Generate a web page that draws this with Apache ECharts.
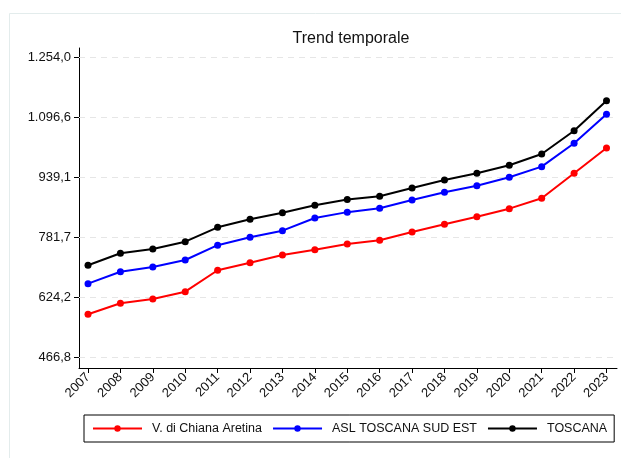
<!DOCTYPE html>
<html>
<head>
<meta charset="utf-8">
<script src="https://cdn.jsdelivr.net/npm/echarts@6/dist/echarts.min.js"></script>
<style>html,body{margin:0;padding:0;background:#fff}#c{width:621px;height:458px}</style>
</head>
<body>
<div id="c"></div>
<script>
const years = [2007,2008,2009,2010,2011,2012,2013,2014,2015,2016,2017,2018,2019,2020,2021,2022,2023];
const chiana = [580.2,609.0,620.3,639.5,695.6,715.6,735.8,749.7,764.6,774.3,796.1,816.3,836.3,857.3,884.5,950.1,1016.5];
const aslSudEst = [660.5,691.9,704.3,722.6,761.5,782.2,799.5,832.8,848.2,858.3,880.1,900.3,917.6,939.6,967.5,1028.9,1105.0];
const toscana = [708.7,740.2,751.5,770.7,808.4,829.4,846.8,866.2,881.2,889.8,911.6,932.6,950.1,971.1,1000.8,1061.9,1140.6];
const yTicks = [466.8,624.24,781.68,939.12,1096.56,1254.0];
const seriesNames = ['V. di Chiana Aretina','ASL TOSCANA SUD EST','TOSCANA'];
const seriesColors = ['#ff0000','#0000ff','#000000'];

const FONT = 'Liberation Sans, Arial, sans-serif';
function fmtIt(v){
  const s = v.toFixed(1).split('.');
  const intPart = s[0].replace(/\B(?=(\d{3})+(?!\d))/g,'.');
  return intPart + ',' + s[1];
}
const pairs = arr => years.map((y,i)=>[y,arr[i]]);
const allData = [chiana, aslSudEst, toscana];

const chart = echarts.init(document.getElementById('c'), null, {renderer:'canvas'});
const series = allData.map((d,i)=>({
  name: seriesNames[i], type:'line', data: pairs(d), z: 3,
  symbol:'circle', symbolSize:7, showSymbol:true,
  lineStyle:{color:seriesColors[i], width:2},
  itemStyle:{color:seriesColors[i]},
  emphasis:{disabled:true}, animation:false
}));
series.push({
  name:'grid', type:'line', data:[], z:1, silent:true, animation:false,
  markLine:{
    z:1, silent:true, symbol:['none','none'], animation:false,
    label:{show:false},
    lineStyle:{color:'#e6e6e6', type:[6,5], width:1},
    data: yTicks.map(v=>({yAxis:v}))
  }
});

chart.setOption({
  animation:false,
  backgroundColor:'#ffffff',
  graphic:[{type:'rect', left:7, top:11, shape:{x:0,y:0,width:640,height:470}, style:{fill:'none', stroke:'#e3ecec', lineWidth:1}, z:-1}],
  title:{text:'Trend temporale', left:346, top:26, textAlign:'center',
    textStyle:{fontFamily:FONT, fontSize:16, fontWeight:'normal', color:'#111'}},
  grid:{left:79, top:48, right:4, bottom:90},
  xAxis:{type:'value', min:2006.722, max:2023.324,
    axisLine:{show:true, lineStyle:{color:'#000', width:1}},
    axisTick:{show:true, length:5, customValues:years, lineStyle:{color:'#000'}},
    axisLabel:{show:true, customValues:years, rotate:45, margin:7,
      fontFamily:FONT, fontSize:13, color:'#111', formatter: v=>String(Math.round(v))},
    splitLine:{show:false}},
  yAxis:{type:'value', min:439.2, max:1278.9,
    axisLine:{show:true, lineStyle:{color:'#000', width:1}},
    axisTick:{show:true, length:5, customValues:yTicks, lineStyle:{color:'#000'}},
    axisLabel:{show:true, customValues:yTicks, margin:8,
      fontFamily:FONT, fontSize:13, color:'#111', formatter: v=>fmtIt(v)},
    splitLine:{show:false}},
  legend:{
    data: seriesNames.map((n,i)=>({name:n, itemStyle:{color:seriesColors[i]}, lineStyle:{color:seriesColors[i]}})),
    left:84, top:415, orient:'horizontal',
    padding:[7,7,7,8], itemGap:10, itemWidth:49, itemHeight:8,
    borderColor:'#000', borderWidth:1, backgroundColor:'#fff',
    textStyle:{fontFamily:FONT, fontSize:12.5, color:'#111', padding:[0,0,0,5]},
    selectedMode:false
  },
  series: series
});
</script>
</body>
</html>
